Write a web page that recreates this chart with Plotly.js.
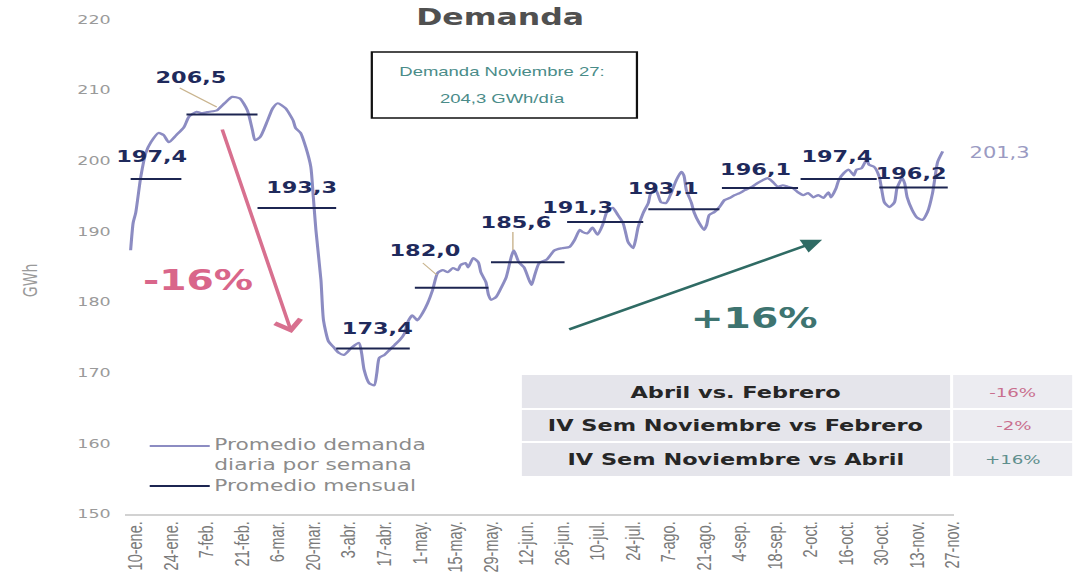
<!DOCTYPE html>
<html>
<head>
<meta charset="utf-8">
<script src="https://cdn.plot.ly/plotly-3.0.1.min.js"></script>
<style>
html,body{margin:0;padding:0;background:#fff;overflow:hidden;}
#wrap{width:1076px;height:580px;overflow:hidden;}
#chart{width:768px;height:580px;transform:scaleX(1.40104);transform-origin:0 0;}
</style>
</head>
<body>
<div id="wrap"><div id="chart"></div></div>
<script>
// ---------- DATA ----------
// days since 10-ene (weekly-average daily demand, GWh)
const dia = [-2,-1,0,2,4,6,9,11,13,16,19,21,24,26,29,32,35,38,41,44,46,47,49,52,54,56,59,62,63,65,67,69,70,71,73,74,76,78,80,82,85,88,89,90,92,94,95,96,98,100,102,104,106,107,109,111,113,115,117,119,121,123,125,127,128,130,131,133,135,136,138,139,140,142,144,146,148,149,151,153,155,156,157,159,162,165,168,171,173,175,176,178,180,182,184,186,188,190,192,193,194,196,197,198,200,202,203,205,207,209,211,213,215,216,217,219,220,222,224,225,226,228,230,232,234,236,238,240,243,245,247,249,251,253,255,257,259,261,263,265,267,269,271,273,274,276,277,279,281,283,284,286,288,289,291,293,294,295,297,299,300,302,303,304,306,308,310,312,314,315,316,318];
const demanda = [187.3,191.2,192.6,197.7,201.1,202.6,203.9,203.6,202.6,203.6,204.7,206.2,206.9,206.7,206.9,207.1,208.1,209.0,208.8,207.1,204.3,202.9,203.3,205.7,207.4,208.1,207.4,205.7,204.6,203.9,201.9,199.1,194.8,190.2,183.1,177.4,174.4,173.6,172.8,172.5,173.5,174.2,172.8,170.4,168.5,168.2,169.9,172.1,172.5,173.2,173.9,174.6,175.6,177.0,178.1,177.4,178.4,179.8,181.7,184.1,184.5,184.2,184.8,184.5,185.2,185.5,184.9,186.2,185.6,184.2,182.8,181.0,180.3,180.7,182.0,183.5,186.4,187.3,185.6,184.9,183.1,182.4,183.5,185.5,186.0,187.3,187.6,187.8,188.8,190.2,189.9,189.7,190.5,189.5,190.9,193.0,193.3,192.3,191.2,189.9,188.5,187.6,188.8,190.6,192.6,194.0,195.4,195.8,194.1,194.0,195.4,197.2,198.4,197.9,195.8,194.0,192.7,191.2,190.2,190.9,192.3,192.7,193.4,194.4,194.7,195.1,195.4,195.8,196.3,196.8,197.2,197.5,197.0,196.3,196.5,196.3,196.1,195.5,195.1,195.4,194.8,195.1,194.7,195.5,194.8,196.1,197.2,198.2,198.7,197.9,198.7,198.9,200.1,199.4,199.1,197.7,195.8,194.1,193.4,194.1,196.1,197.5,196.8,194.8,193.0,191.9,191.6,192.7,195.4,197.7,199.8,201.3];

// monthly averages: start day, end day, value
const mesInicio = [-2,20,48,79,110,140,170,202,231,262,293];
const mesFin    = [18,48,79,108,139,169,200,230,261,292,320];
const mesValor  = [197.4,206.5,193.3,173.4,182.0,185.6,191.3,193.1,196.1,197.4,196.2];

const tickDia = [0,14,28,42,56,70,84,98,112,126,140,154,168,182,196,210,224,238,252,266,280,294,308,322];
const tickTexto = ['10-ene.','24-ene.','7-feb.','21-feb.','6-mar.','20-mar.','3-abr.','17-abr.','1-may.','15-may.','29-may.','12-jun.','26-jun.','10-jul.','24-jul.','7-ago.','21-ago.','4-sep.','18-sep.','2-oct.','16-oct.','30-oct.','13-nov.','27-nov.'];

const comparacion = ['Abril vs. Febrero','IV Sem Noviembre vs Febrero','IV Sem Noviembre vs Abril'];
const variacion = ['-16%','-2%','+16%'];
const cajaTexto = ['Demanda Noviembre 27:','204,3 GWh/día'];
const tituloTexto = 'Demanda';
const serieNombres = ['Promedio demanda<br>diaria por semana', 'Promedio mensual'];

// ---------- LAYOUT HELPERS ----------
// reference-pixel -> paper fraction (plot area spans x 125..954, y 5..514)
const PX = x => (x - 125) / 829;
const PY = y => (514 - y) / 509;
const fmt = v => v.toFixed(1).replace('.', ',');

const LINE = '#8c8cc2', NAVY = '#1c2551', LABEL = '#1f2a5c';
const WIDE = 'DejaVu Sans, Verdana, sans-serif';
const BOXFONT = 'Liberation Sans, Arial, sans-serif';

// ---------- TRACES ----------
const mx = [], my = [];
mesValor.forEach((v, i) => { mx.push(mesInicio[i], mesFin[i], null); my.push(v, v, null); });

const traces = [
  {x: dia, y: demanda, type: 'scatter', mode: 'lines', name: 'Promedio demanda diaria por semana',
   line: {color: LINE, width: 2.2, shape: 'spline', smoothing: 0.6}, hoverinfo: 'skip'},
  {x: mx, y: my, type: 'scatter', mode: 'lines', name: 'Promedio mensual',
   line: {color: NAVY, width: 2}, hoverinfo: 'skip', connectgaps: false}
];

// ---------- ANNOTATIONS ----------
const posEtiqueta = [[6.3,200.5],[21.7,211.7],[65.5,196.2],[95.4,176.3],[114,187.3],[150.2,191.2],[174.3,193.4],[208.2,196.1],[244.1,198.8],[276.4,200.5],[305.6,198.2]];
const ann = [];
mesValor.forEach((v, i) => ann.push({
  x: posEtiqueta[i][0], y: posEtiqueta[i][1], xref: 'x', yref: 'y', showarrow: false,
  text: '<b>' + fmt(v) + '</b>', font: {family: WIDE, size: 16, color: LABEL},
  xanchor: 'center', yanchor: 'middle'
}));
// last value
ann.push({x: PX(1000), y: PY(153), xref: 'paper', yref: 'paper', showarrow: false,
  text: fmt(demanda[demanda.length - 1]), font: {family: WIDE, size: 15, color: '#9a9ac2'},
  xanchor: 'center', yanchor: 'middle'});
// title
ann.push({x: PX(500), y: PY(17), xref: 'paper', yref: 'paper', showarrow: false,
  text: '<b>' + tituloTexto + '</b>', font: {family: WIDE, size: 22.5, color: '#505050'},
  xanchor: 'center', yanchor: 'middle'});
// box text
ann.push({x: PX(503), y: PY(72), xref: 'paper', yref: 'paper', showarrow: false,
  text: cajaTexto[0], font: {family: BOXFONT, size: 13.2, color: '#4a8c89'},
  xanchor: 'center', yanchor: 'middle'});
ann.push({x: PX(503), y: PY(99), xref: 'paper', yref: 'paper', showarrow: false,
  text: cajaTexto[1], font: {family: BOXFONT, size: 13.2, color: '#4a8c89'},
  xanchor: 'center', yanchor: 'middle'});
// arrows
ann.push({x: 61.5, y: 175.6, ax: 33.9, ay: 204.6, xref: 'x', yref: 'y', axref: 'x', ayref: 'y',
  showarrow: true, arrowhead: 4, arrowsize: 1.4, arrowwidth: 2.6, arrowcolor: '#d8708f', text: ''});
ann.push({x: 270.5, y: 188.8, ax: 170, ay: 176.0, xref: 'x', yref: 'y', axref: 'x', ayref: 'y',
  showarrow: true, arrowhead: 2, arrowsize: 1.2, arrowwidth: 2.4, arrowcolor: '#2f6b64', text: ''});
ann.push({x: PX(198), y: PY(280), xref: 'paper', yref: 'paper', showarrow: false,
  text: '<b>-16%</b>', font: {family: WIDE, size: 28, color: '#d9668a'}, xanchor: 'center', yanchor: 'middle'});
ann.push({x: PX(754), y: PY(318), xref: 'paper', yref: 'paper', showarrow: false,
  text: '<b>+16%</b>', font: {family: WIDE, size: 28, color: '#3e7470'}, xanchor: 'center', yanchor: 'middle'});
// table texts
const filaY = [392, 425, 459];
const valColor = ['#c96f8e', '#c96f8e', '#5f8f8d'];
comparacion.forEach((t, i) => {
  ann.push({x: PX(736), y: PY(filaY[i]), xref: 'paper', yref: 'paper', showarrow: false,
    text: '<b>' + t + '</b>', font: {family: WIDE, size: 16, color: '#262626'}, xanchor: 'center', yanchor: 'middle'});
  ann.push({x: PX(1013), y: PY(filaY[i]), xref: 'paper', yref: 'paper', showarrow: false,
    text: variacion[i], font: {family: WIDE, size: 13, color: valColor[i]}, xanchor: 'center', yanchor: 'middle'});
});
// legend texts
ann.push({x: PX(212), y: PY(455), xref: 'paper', yref: 'paper', showarrow: false, text: serieNombres[0],
  font: {family: WIDE, size: 15.5, color: '#8c8c8c'}, xanchor: 'left', yanchor: 'middle', align: 'left'});
ann.push({x: PX(212), y: PY(486), xref: 'paper', yref: 'paper', showarrow: false, text: serieNombres[1],
  font: {family: WIDE, size: 15.5, color: '#8c8c8c'}, xanchor: 'left', yanchor: 'middle', align: 'left'});
// y title
ann.push({x: PX(30), y: PY(280), xref: 'paper', yref: 'paper', showarrow: false, text: 'GWh',
  textangle: -90, font: {family: WIDE, size: 14, color: '#9a9a9a'}, xanchor: 'center', yanchor: 'middle'});

// ---------- SHAPES ----------
const shapes = [];
// box
shapes.push({type: 'rect', xref: 'paper', yref: 'paper', x0: PX(372), x1: PX(637), y0: PY(118), y1: PY(52),
  line: {color: '#111', width: 1.6}, fillcolor: 'rgba(0,0,0,0)'});
// table
[[375, 408], [410, 441], [443, 476]].forEach(([a, b]) => {
  shapes.push({type: 'rect', xref: 'paper', yref: 'paper', x0: PX(522), x1: PX(950), y0: PY(b), y1: PY(a),
    line: {width: 0}, fillcolor: '#e5e5eb', layer: 'below'});
  shapes.push({type: 'rect', xref: 'paper', yref: 'paper', x0: PX(953), x1: PX(1072), y0: PY(b), y1: PY(a),
    line: {width: 0}, fillcolor: '#ececf1', layer: 'below'});
});
// legend lines
shapes.push({type: 'line', xref: 'paper', yref: 'paper', x0: PX(150), x1: PX(210), y0: PY(446), y1: PY(446), line: {color: LINE, width: 2}});
shapes.push({type: 'line', xref: 'paper', yref: 'paper', x0: PX(150), x1: PX(210), y0: PY(486), y1: PY(486), line: {color: NAVY, width: 2}});
// leader lines
[[180, 88, 217, 107], [423, 263, 437, 275], [513, 232, 513, 250]].forEach(([a, b, c, d]) => shapes.push({
  type: 'line', xref: 'paper', yref: 'paper', x0: PX(a), y0: PY(b), x1: PX(c), y1: PY(d), line: {color: '#c9b48e', width: 1}}));

const layout = {
  width: 768, height: 580,
  margin: {l: 89.2, r: 87.2, t: 5, b: 66},
  paper_bgcolor: '#fff', plot_bgcolor: '#fff',
  showlegend: false,
  xaxis: {range: [-4.34, 322.5], tickmode: 'array', tickvals: tickDia, ticktext: tickTexto,
    tickangle: -90, tickfont: {family: 'Liberation Sans, Arial, sans-serif', size: 14.5, color: '#7a7a7a'},
    showline: true, linecolor: '#d2d2d2', linewidth: 1.5, showgrid: false, zeroline: false, ticks: ''},
  yaxis: {range: [150, 222], tickmode: 'array', tickvals: [150,160,170,180,190,200,210,220],
    tickfont: {family: WIDE, size: 12.5, color: '#9a9a9a'}, showgrid: false, zeroline: false, showline: false,
    ticks: '', ticklabelstandoff: 9},
  annotations: ann,
  shapes: shapes
};

Plotly.newPlot('chart', traces, layout, {staticPlot: true, displayModeBar: false});
</script>
</body>
</html>
